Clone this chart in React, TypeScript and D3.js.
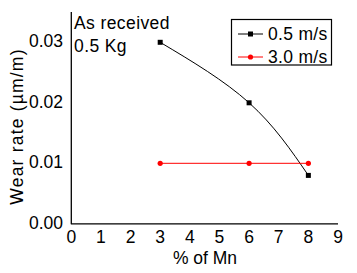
import React from "react";
import * as d3 from "d3";

const mn = [3, 6, 8];
const slow = [0.03, 0.02, 0.008];
const fast = [0.01, 0.01, 0.01];
const xTicks = [0, 1, 2, 3, 4, 5, 6, 7, 8, 9];
const yTicks = [0, 0.01, 0.02, 0.03];

export default function App() {
  const W = 357, H = 273;
  const x = d3.scaleLinear().domain([0, 9]).range([71.3, 338]);
  const y = d3.scaleLinear().domain([0, 0.01]).range([223.8, 163.3]);
  const font = "Liberation Sans, Arial, sans-serif";
  const fs = 17.5;
  const pts1 = mn.map((m, i) => [x(m), y(slow[i])] as [number, number]);
  const pts2 = mn.map((m, i) => [x(m), y(fast[i])] as [number, number]);
  const curve = d3.line().curve(d3.curveNatural)(pts1) || "";
  const straight = d3.line()(pts2) || "";
  return (
    <svg width={W} height={H} style={{ position: "absolute", left: 0, top: 0 }} fontFamily={font}>
      <rect width={W} height={H} fill="white" />
      <line x1={x(0)} x2={x(0)} y1={12} y2={y(0) + 0.5} stroke="black" strokeWidth={1.3} />
      <line x1={x(0)} x2={x(9)} y1={y(0)} y2={y(0)} stroke="black" strokeWidth={1.3} />
      {yTicks.map((t) => (
        <text key={t} x={63} y={y(t) + 5} fontSize={fs} textAnchor="end">{t.toFixed(2)}</text>
      ))}
      {xTicks.map((t) => (
        <text key={t} x={x(t)} y={243.3} fontSize={fs} textAnchor="middle">{t}</text>
      ))}
      <text x={205} y={264.3} fontSize={fs} textAnchor="middle">% of Mn</text>
      <text transform={`translate(22.5,126.5) rotate(-90)`} fontSize={fs} letterSpacing={1.2} textAnchor="middle">Wear rate (µm/m)</text>
      <text x={74} y={29.3} fontSize={fs} letterSpacing={0.4}>As received</text>
      <text x={74} y={52.3} fontSize={fs} letterSpacing={0.4}>0.5 Kg</text>
      <path d={curve} fill="none" stroke="black" strokeWidth={1} />
      <path d={straight} fill="none" stroke="red" strokeWidth={1} />
      {pts1.map((p, i) => (
        <rect key={i} x={p[0] - 2.5} y={p[1] - 2.5} width={5} height={5} fill="black" />
      ))}
      {pts2.map((p, i) => (
        <circle key={i} cx={p[0]} cy={p[1]} r={2.6} fill="red" />
      ))}
      <rect x={231.5} y={19.5} width={100} height={45.5} fill="white" stroke="black" strokeWidth={1.2} />
      <line x1={238} x2={263} y1={34} y2={34} stroke="black" />
      <rect x={248} y={31.5} width={5} height={5} fill="black" />
      <text x={268} y={40} fontSize={fs} letterSpacing={0.3}>0.5 m/s</text>
      <line x1={238} x2={263} y1={57} y2={57} stroke="red" />
      <circle cx={250.5} cy={57} r={2.6} fill="red" />
      <text x={268} y={63} fontSize={fs} letterSpacing={0.3}>3.0 m/s</text>
    </svg>
  );
}
